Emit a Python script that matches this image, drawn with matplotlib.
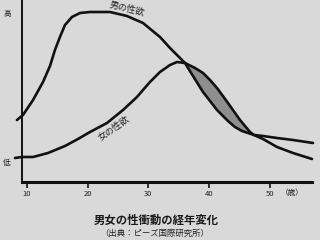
import matplotlib
matplotlib.use('Agg')
import matplotlib.pyplot as plt

# 日本語フォント
plt.rcParams['font.family'] = ['Noto Sans CJK JP', 'DejaVu Sans']

# 男の性欲（年齢, 強さ）
male_age = [8.35, 9.34, 11.0, 12.64, 13.79, 14.61, 15.43, 16.26, 17.41, 18.73, 20.38, 23.67,
            26.47, 29.11, 31.91, 33.56, 34.71, 36.03, 37.35, 39.0, 41.3, 43.11, 44.26, 45.42,
            47.4, 48.88, 51.19, 53.82, 57.12]
male_lvl = [62, 67, 82, 100, 116, 132, 145, 157, 165, 169, 170, 170,
            166, 159, 145, 134, 127, 119, 106, 90, 72, 61, 55, 51,
            47, 46, 44, 42, 39]

# 女の性欲
female_age = [8.02, 9.18, 11.0, 13.46, 16.26, 18.4, 20.38, 23.18, 25.82, 28.12, 29.11, 30.26,
              31.91, 33.56, 34.71, 36.03, 37.68, 39.0, 40.15, 41.3, 43.11, 45.09, 46.74,
              47.4, 48.88, 51.19, 53.82, 56.95]
female_lvl = [24, 25, 25, 29, 36, 43, 50, 59, 72, 85, 92, 100,
              110, 117, 120, 119, 114, 109, 102, 94, 79, 62, 50,
              47, 43, 35, 29, 23]

xticks = [10, 20, 30, 40, 50]
cross1, cross2 = 36.03, 47.4

fig = plt.figure(figsize=(3.2, 2.4), dpi=100, facecolor='#d9d9d9')
ax = fig.add_axes([22 / 320, 58 / 240, 290 / 320, 182 / 240])
ax.set_facecolor('#d9d9d9')
ax.set_xlim(9.18, 56.95)
ax.set_ylim(0, 182)

# 女性が上回る部分（灰色）
lens_x = [a for a in female_age if cross1 <= a <= cross2]
lens_y = [v for a, v in zip(female_age, female_lvl) if cross1 <= a <= cross2]
m_x = [a for a in male_age if cross1 <= a <= cross2]
m_y = [v for a, v in zip(male_age, male_lvl) if cross1 <= a <= cross2]
ax.fill(lens_x + m_x[::-1], lens_y + m_y[::-1], color='#8e8e8e', zorder=2)

ax.plot(male_age, male_lvl, color='#111111', lw=1.9, clip_on=False, zorder=3,
        solid_capstyle='round', solid_joinstyle='round')
ax.plot(female_age, female_lvl, color='#111111', lw=1.9, clip_on=False, zorder=3,
        solid_capstyle='round', solid_joinstyle='round')

ax.text(26.4, 173, '男の性欲', fontsize=6.5, rotation=-14, ha='center', va='center',
        color='#222222')
ax.text(24.3, 54, '女の性欲', fontsize=6.5, rotation=36, ha='center', va='center',
        color='#222222')

for s in ['top', 'right']:
    ax.spines[s].set_visible(False)
ax.spines['left'].set_linewidth(1.4)
ax.spines['bottom'].set_linewidth(2.2)
ax.spines['left'].set_color('#111111')
ax.spines['bottom'].set_color('#111111')
ax.set_yticks([])
ax.set_xticks(xticks)
ax.set_xticklabels([str(t) for t in xticks])
ax.tick_params(axis='x', direction='out', length=4, width=1.3, pad=2,
               labelsize=5.5, colors='#222222')

fig.text(7 / 320, 1 - 14 / 240, '高', fontsize=5.5, ha='center', va='center', color='#222222')
fig.text(7 / 320, 1 - 163 / 240, '低', fontsize=5.5, ha='center', va='center', color='#222222')
fig.text(292 / 320, 1 - 193 / 240, '（歳）', fontsize=5.5, ha='center', va='center', color='#222222')

fig.text(156 / 320, 1 - 220 / 240, '男女の性衝動の経年変化', fontsize=8.2, fontweight='bold',
         ha='center', va='center', color='#1a1a1a')
fig.text(155 / 320, 1 - 233 / 240, '（出典：ピーズ国際研究所）', fontsize=6, ha='center',
         va='center', color='#222222')

fig.savefig('out.png', dpi=100, facecolor=fig.get_facecolor())
